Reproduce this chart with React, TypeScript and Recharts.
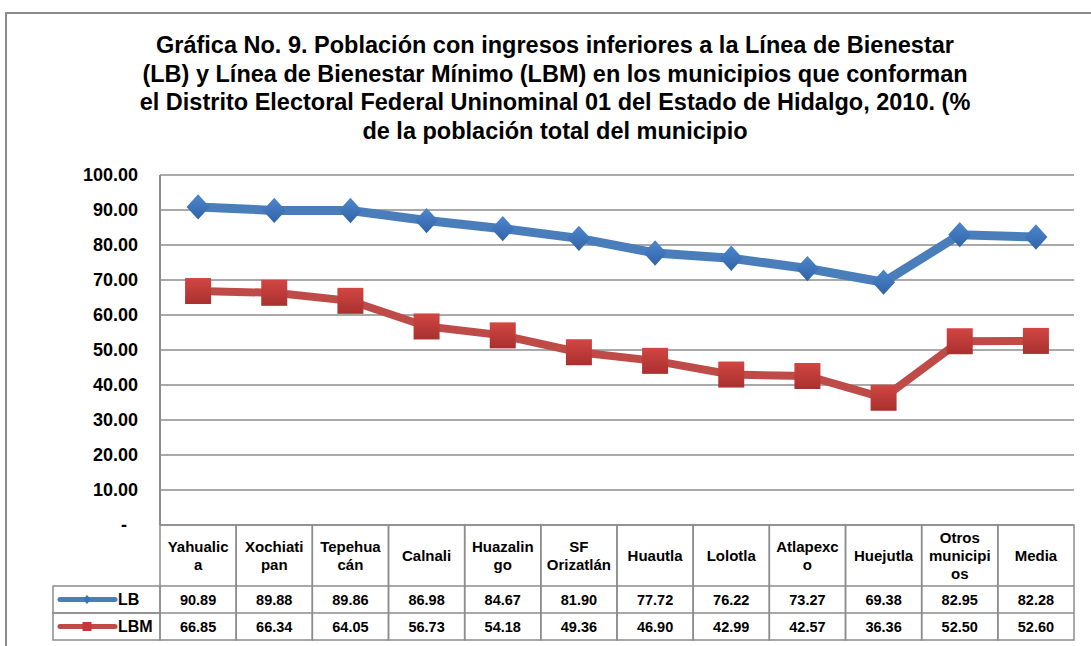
import React from 'react'
import { LineChart, Line, XAxis, YAxis, CartesianGrid } from 'recharts'

// datos
const titleLines = [
  'Gráfica No. 9. Población con ingresos inferiores a la Línea de Bienestar',
  '(LB) y Línea de Bienestar Mínimo (LBM) en los municipios que conforman',
  'el Distrito Electoral Federal Uninominal 01 del Estado de Hidalgo, 2010. (%',
  'de la población total del municipio',
]

const municipios = [
  'Yahualica',
  'Xochiatipan',
  'Tepehuacán',
  'Calnali',
  'Huazalingo',
  'SF Orizatlán',
  'Huautla',
  'Lolotla',
  'Atlapexco',
  'Huejutla',
  'Otros municipios',
  'Media',
]

// como se cortan los nombres en la tabla
const headerLines = [
  ['Yahualic', 'a'],
  ['Xochiati', 'pan'],
  ['Tepehua', 'cán'],
  ['Calnali'],
  ['Huazalin', 'go'],
  ['SF', 'Orizatlán'],
  ['Huautla'],
  ['Lolotla'],
  ['Atlapexc', 'o'],
  ['Huejutla'],
  ['Otros', 'municipi', 'os'],
  ['Media'],
]

const lb = [90.89, 89.88, 89.86, 86.98, 84.67, 81.9, 77.72, 76.22, 73.27, 69.38, 82.95, 82.28]
const lbm = [66.85, 66.34, 64.05, 56.73, 54.18, 49.36, 46.9, 42.99, 42.57, 36.36, 52.5, 52.6]

const yTicks = [0, 10, 20, 30, 40, 50, 60, 70, 80, 90, 100]

const series = [
  { key: 'LB', name: 'LB', values: lb, line: '#4a7ebb', marker: 'diamond' },
  { key: 'LBM', name: 'LBM', values: lbm, line: '#be4b48', marker: 'square' },
]

const data = municipios.map((m, i) => ({ name: m, LB: lb[i], LBM: lbm[i] }))

const W = 1091
const H = 646
const MARGIN = { top: 175, right: 17, bottom: 0, left: 60 }
const Y_W = 100
const X_H = 121
const BAND = (W - MARGIN.left - MARGIN.right - Y_W) / municipios.length
const HEAD_H = 61
const ROW_H = 27
const LEG_W = 107
const FONT = "'Liberation Sans', Arial, sans-serif"
const BORDER = '#8c8c8c'

const fmt = (v: number) => (v === 0 ? '-' : v.toFixed(2))

const YTick = (props: any) => {
  const { x, y, payload } = props
  const zero = payload.value === 0
  return (
    <text
      x={zero ? x - 11 : x}
      y={y}
      textAnchor="end"
      dominantBaseline="central"
      fontFamily={FONT}
      fontSize={18}
      fontWeight="bold"
      fill="#000"
    >
      {fmt(payload.value)}
    </text>
  )
}

const Diamond = ({ cx, cy, r, fill }: any) => (
  <path d={`M${cx},${cy - r * 1.1} L${cx + r},${cy} L${cx},${cy + r * 1.1} L${cx - r},${cy} Z`} fill={fill} />
)

const Square = ({ cx, cy, r, fill }: any) => (
  <rect x={cx - r} y={cy - r} width={r * 2} height={r * 2} fill={fill} />
)

const TableTick = (props: any) => {
  const { x, y, index } = props
  const left = x - BAND / 2
  const lines = headerLines[index]
  const lh = 18
  const mid = y + HEAD_H / 2
  const first = mid - ((lines.length - 1) * lh) / 2
  return (
    <g>
      <rect x={left} y={y} width={BAND} height={HEAD_H + ROW_H * 2} fill="none" stroke={BORDER} strokeWidth={1.5} />
      <line x1={left} x2={left + BAND} y1={y + HEAD_H} y2={y + HEAD_H} stroke={BORDER} strokeWidth={1.5} />
      <line x1={left} x2={left + BAND} y1={y + HEAD_H + ROW_H} y2={y + HEAD_H + ROW_H} stroke={BORDER} strokeWidth={1.5} />
      {lines.map((t, i) => (
        <text
          key={i}
          x={x}
          y={first + i * lh}
          textAnchor="middle"
          dominantBaseline="central"
          fontFamily={FONT}
          fontSize={15}
          fontWeight="bold"
          fill="#000"
        >
          {t}
        </text>
      ))}
      {series.map((s, r) => (
        <text
          key={s.key}
          x={x}
          y={y + HEAD_H + ROW_H * r + ROW_H / 2}
          textAnchor="middle"
          dominantBaseline="central"
          fontFamily={FONT}
          fontSize={14.5}
          fontWeight="bold"
          fill="#000"
        >
          {s.values[index].toFixed(2)}
        </text>
      ))}
      {index === 0 &&
        series.map((s, r) => {
          const ry = y + HEAD_H + ROW_H * r
          const cy = ry + ROW_H / 2
          const lx = left - LEG_W
          return (
            <g key={s.key}>
              <rect x={lx} y={ry} width={LEG_W} height={ROW_H} fill="none" stroke={BORDER} strokeWidth={1.5} />
              <line x1={lx + 7} x2={lx + 62} y1={cy} y2={cy} stroke={s.line} strokeWidth={5} strokeLinecap="round" />
              {s.marker === 'diamond' ? (
                <Diamond cx={lx + 34} cy={cy} r={4} fill="#3b73b9" />
              ) : (
                <Square cx={lx + 34} cy={cy} r={4.5} fill="#c0393a" />
              )}
              <text
                x={lx + 65}
                y={cy}
                dominantBaseline="central"
                fontFamily={FONT}
                fontSize={16}
                fontWeight="bold"
                fill="#000"
              >
                {s.name}
              </text>
            </g>
          )
        })}
    </g>
  )
}

export default function App() {
  return (
    <div
      style={{
        position: 'absolute',
        left: 0,
        top: 0,
        width: W,
        height: H,
        overflow: 'hidden',
        background: '#fff',
        fontFamily: FONT,
      }}
    >
      <div
        style={{
          position: 'absolute',
          left: 5,
          top: 12,
          width: W + 20,
          height: H + 20,
          border: `2px solid ${BORDER}`,
        }}
      />
      <div
        style={{
          position: 'absolute',
          left: 55,
          top: 31,
          width: 1000,
          textAlign: 'center',
          fontSize: 23.5,
          fontWeight: 'bold',
          lineHeight: '28.5px',
          color: '#000',
        }}
      >
        {titleLines.map((t) => (
          <div key={t}>{t}</div>
        ))}
      </div>
      <div style={{ position: 'absolute', left: 0, top: 0 }}>
        <LineChart width={W} height={H} data={data} margin={MARGIN}>
          <defs>
            <linearGradient id="gBlue" x1="0" y1="0" x2="0" y2="1">
              <stop offset="0%" stopColor="#4f86cc" />
              <stop offset="100%" stopColor="#2f63a8" />
            </linearGradient>
            <linearGradient id="gRed" x1="0" y1="0" x2="0" y2="1">
              <stop offset="0%" stopColor="#d24643" />
              <stop offset="100%" stopColor="#a8302e" />
            </linearGradient>
          </defs>
          <CartesianGrid vertical={false} stroke={BORDER} strokeWidth={1.5} />
          <XAxis
            dataKey="name"
            interval={0}
            height={X_H}
            padding={{ left: BAND / 2, right: BAND / 2 }}
            tickLine={false}
            axisLine={false}
            tickSize={0}
            tickMargin={0}
            tick={<TableTick />}
          />
          <YAxis
            domain={[0, 100]}
            ticks={yTicks}
            width={Y_W}
            tickLine={false}
            tickSize={0}
            tickMargin={22}
            axisLine={{ stroke: BORDER, strokeWidth: 2 }}
            tick={<YTick />}
          />
          <Line
            dataKey="LB"
            stroke="#4a7ebb"
            strokeWidth={9}
            isAnimationActive={false}
            dot={(p: any) => <Diamond key={`lb-${p.index}`} cx={p.cx} cy={p.cy} r={11.5} fill="url(#gBlue)" />}
          />
          <Line
            dataKey="LBM"
            stroke="#be4b48"
            strokeWidth={8}
            isAnimationActive={false}
            dot={(p: any) => <Square key={`lbm-${p.index}`} cx={p.cx} cy={p.cy} r={13} fill="url(#gRed)" />}
          />
        </LineChart>
      </div>
    </div>
  )
}
